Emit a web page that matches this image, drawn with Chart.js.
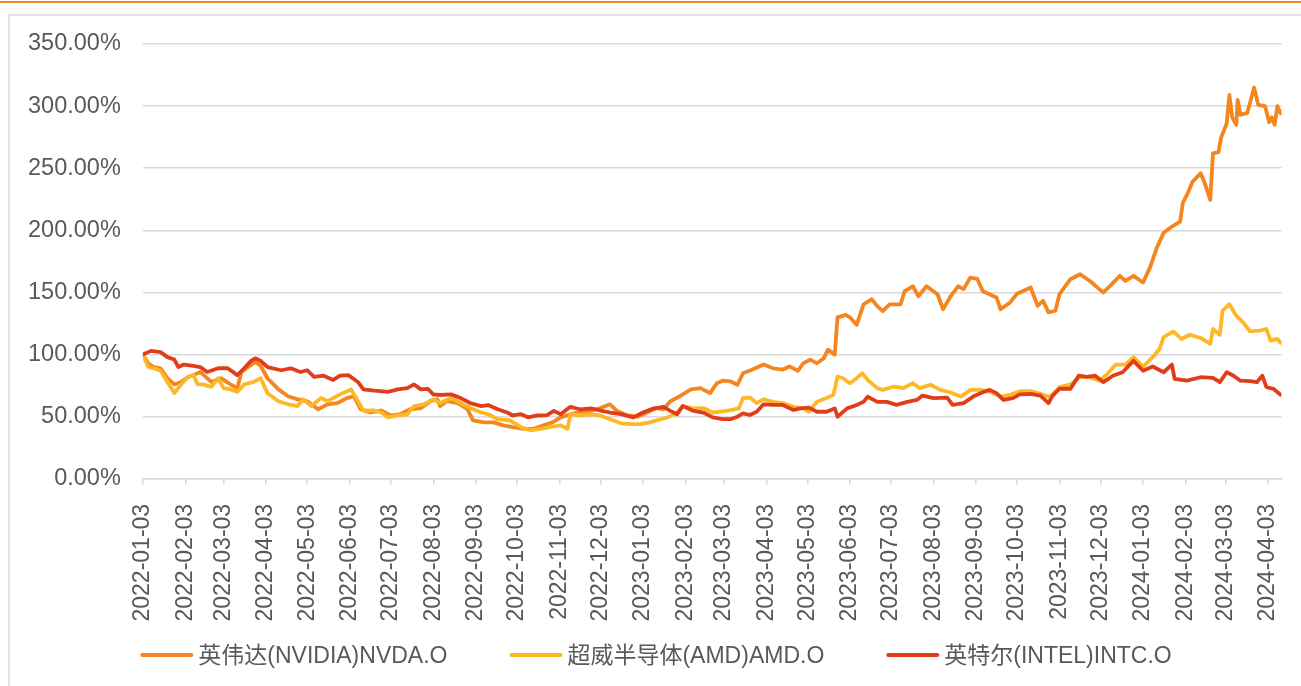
<!DOCTYPE html>
<html>
<head>
<meta charset="utf-8">
<script src="https://cdn.jsdelivr.net/npm/chart.js@4"></script>
<style>
html,body{margin:0;padding:0;background:#fff;overflow:hidden;}
#wrap{position:relative;width:1301px;height:686px;}
</style>
</head>
<body>
<div id="wrap"><canvas id="c"></canvas></div>
<script>
const seriesLabels = ['英伟达(NVIDIA)NVDA.O', '超威半导体(AMD)AMD.O', '英特尔(INTEL)INTC.O'];
const seriesColors = ['#F5861F', '#FDB827', '#E03E1A'];

const tickLabels = ['2022-01-03','2022-02-03','2022-03-03','2022-04-03','2022-05-03','2022-06-03','2022-07-03','2022-08-03','2022-09-03','2022-10-03','2022-11-03','2022-12-03',
'2023-01-03','2023-02-03','2023-03-03','2023-04-03','2023-05-03','2023-06-03','2023-07-03','2023-08-03','2023-09-03','2023-10-03','2023-11-03','2023-12-03',
'2024-01-03','2024-02-03','2024-03-03','2024-04-03'];

const nvdaDates = ['2022-01-03','2022-01-07','2022-01-11','2022-01-16','2022-01-21','2022-01-26','2022-01-31','2022-02-05','2022-02-09','2022-02-14','2022-02-22','2022-03-01','2022-03-08','2022-03-13','2022-03-16','2022-03-21','2022-03-26','2022-03-30','2022-04-04','2022-04-12','2022-04-19','2022-04-26','2022-05-03','2022-05-11','2022-05-18','2022-05-25','2022-06-01','2022-06-06','2022-06-11','2022-06-18','2022-06-26','2022-07-03','2022-07-10','2022-07-17','2022-07-25','2022-08-01','2022-08-06','2022-08-08','2022-08-13','2022-08-21','2022-08-28','2022-09-01','2022-09-09','2022-09-16','2022-09-23','2022-09-30','2022-10-08','2022-10-15','2022-10-22','2022-10-30','2022-11-04','2022-11-11','2022-11-18','2022-11-26','2022-12-03','2022-12-10','2022-12-15','2022-12-23','2022-12-30','2023-01-06','2023-01-13','2023-01-18','2023-01-23','2023-01-30','2023-02-07','2023-02-14','2023-02-21','2023-02-26','2023-03-02','2023-03-08','2023-03-13','2023-03-17','2023-03-24','2023-04-01','2023-04-08','2023-04-15','2023-04-20','2023-04-26','2023-04-30','2023-05-05','2023-05-10','2023-05-15','2023-05-18','2023-05-23','2023-05-25','2023-05-31','2023-06-03','2023-06-08','2023-06-13','2023-06-19','2023-06-23','2023-06-27','2023-07-02','2023-07-10','2023-07-13','2023-07-19','2023-07-23','2023-07-29','2023-08-06','2023-08-10','2023-08-15','2023-08-21','2023-08-25','2023-08-30','2023-09-04','2023-09-08','2023-09-13','2023-09-18','2023-09-21','2023-09-28','2023-10-03','2023-10-13','2023-10-18','2023-10-22','2023-10-26','2023-10-31','2023-11-03','2023-11-11','2023-11-18','2023-11-25','2023-12-02','2023-12-05','2023-12-10','2023-12-17','2023-12-21','2023-12-27','2024-01-03','2024-01-08','2024-01-13','2024-01-18','2024-01-24','2024-01-30','2024-02-01','2024-02-05','2024-02-08','2024-02-14','2024-02-17','2024-02-21','2024-02-23','2024-02-27','2024-02-29','2024-03-04','2024-03-06','2024-03-08','2024-03-11','2024-03-12','2024-03-14','2024-03-19','2024-03-21','2024-03-24','2024-03-27','2024-04-01','2024-04-04','2024-04-06','2024-04-08','2024-04-10','2024-04-13'];
const nvdaValues = [100,93,90,89,81,76,78,82,83.5,86,78,81,76,73,86,90,94,91,81,72,66.5,64,62.5,56,60,61,65,66.5,56,53.4,55,51,52,56,57,62.5,64,58.6,62.5,61,56,47,45.5,45.5,43,41.6,40.3,40.3,43,46,49.5,52,54,54.7,57,60,54.7,51,50,53.4,57,56,62.5,66.5,72,73,69,77,79,78.4,75.7,85,88,92,89,88,90.5,87,93,96,93,97,104,100,130,132,130,124,140.5,144.6,139,135,140.5,140.5,151,155,147,155,148.6,136.5,146,155,152.7,162,161,151,148.6,146,136.5,142,149,154,139.3,143.3,134,135.3,148.7,160.7,164.7,159.4,152.7,150,155.3,163.4,159.4,163.4,158,170,186,198,203,207,222,231,239,246,238,224.5,262,263,275,286,309,291,285,305,293,294.5,302.5,315,301,300,287,291,285,300,293];

const amdDates = ['2022-01-03','2022-01-07','2022-01-11','2022-01-16','2022-01-21','2022-01-26','2022-01-31','2022-02-05','2022-02-09','2022-02-12','2022-02-16','2022-02-22','2022-02-27','2022-03-03','2022-03-08','2022-03-13','2022-03-18','2022-03-25','2022-03-30','2022-04-04','2022-04-12','2022-04-19','2022-04-26','2022-04-30','2022-05-06','2022-05-13','2022-05-18','2022-05-27','2022-06-04','2022-06-09','2022-06-13','2022-06-21','2022-06-26','2022-07-01','2022-07-08','2022-07-15','2022-07-20','2022-07-27','2022-08-03','2022-08-08','2022-08-16','2022-08-23','2022-08-30','2022-09-07','2022-09-12','2022-09-19','2022-09-28','2022-10-06','2022-10-13','2022-10-20','2022-10-27','2022-11-04','2022-11-09','2022-11-11','2022-11-18','2022-11-26','2022-12-03','2022-12-10','2022-12-18','2022-12-25','2023-01-01','2023-01-08','2023-01-16','2023-01-21','2023-01-28','2023-02-01','2023-02-09','2023-02-16','2023-02-23','2023-02-28','2023-03-08','2023-03-14','2023-03-17','2023-03-22','2023-03-27','2023-04-01','2023-04-08','2023-04-15','2023-04-23','2023-04-30','2023-05-04','2023-05-10','2023-05-17','2023-05-22','2023-05-25','2023-05-29','2023-06-03','2023-06-08','2023-06-12','2023-06-16','2023-06-23','2023-06-27','2023-07-05','2023-07-12','2023-07-19','2023-07-24','2023-08-01','2023-08-08','2023-08-15','2023-08-23','2023-08-30','2023-09-06','2023-09-13','2023-09-21','2023-09-28','2023-10-05','2023-10-13','2023-10-20','2023-10-27','2023-11-03','2023-11-11','2023-11-18','2023-11-25','2023-12-02','2023-12-08','2023-12-14','2023-12-21','2023-12-27','2024-01-03','2024-01-10','2024-01-15','2024-01-18','2024-01-25','2024-01-31','2024-02-06','2024-02-14','2024-02-21','2024-02-23','2024-02-28','2024-03-01','2024-03-06','2024-03-11','2024-03-16','2024-03-21','2024-03-28','2024-04-02','2024-04-05','2024-04-10','2024-04-13'];
const amdValues = [100,90,89,87,78,69,76,82,83.5,76,76,74,81,73,72,70,76,78,81,69,62.5,60,58.6,64,58.6,65,62.5,68,72,62.5,55,55,53.4,49.5,51,52,58.6,60,64,61,65,61,57,53.4,52,48,47,41.6,39,40.3,41.6,43,40.3,52,51,52,51,48,44.7,44,44,45.5,48,49.5,53.4,58.6,56.8,57,53.4,54,55.4,56.7,65,65.4,61,64,62,61,58,56.7,54,62,65,67.6,82.4,81,77,81,85,79.7,73,71.6,74.3,73,77,73,75.7,71.6,69.7,66.2,71.6,71.6,70.3,66.2,67.6,70.5,70.6,68.4,65.8,73.8,76,81.8,81.8,79,84.5,92,92,97.9,90.4,97.9,104.5,114,118.7,112.6,116,113.4,108.6,120.6,116,135.3,140.6,131.3,126,118.7,119.3,120.6,111.2,112.6,108.6];

const intcDates = ['2022-01-03','2022-01-09','2022-01-16','2022-01-21','2022-01-26','2022-01-29','2022-02-02','2022-02-09','2022-02-14','2022-02-19','2022-02-27','2022-03-06','2022-03-13','2022-03-18','2022-03-23','2022-03-26','2022-03-30','2022-04-04','2022-04-14','2022-04-21','2022-04-28','2022-05-03','2022-05-08','2022-05-15','2022-05-22','2022-05-27','2022-06-02','2022-06-09','2022-06-13','2022-06-21','2022-07-01','2022-07-08','2022-07-15','2022-07-20','2022-07-25','2022-07-30','2022-08-03','2022-08-08','2022-08-16','2022-08-23','2022-08-30','2022-09-07','2022-09-12','2022-09-19','2022-09-26','2022-09-30','2022-10-06','2022-10-11','2022-10-18','2022-10-25','2022-10-30','2022-11-04','2022-11-11','2022-11-18','2022-11-26','2022-12-03','2022-12-10','2022-12-18','2022-12-27','2023-01-03','2023-01-11','2023-01-18','2023-01-23','2023-01-28','2023-02-01','2023-02-09','2023-02-16','2023-02-23','2023-03-02','2023-03-08','2023-03-13','2023-03-17','2023-03-22','2023-03-27','2023-04-01','2023-04-08','2023-04-15','2023-04-23','2023-04-28','2023-05-04','2023-05-10','2023-05-17','2023-05-23','2023-05-25','2023-06-01','2023-06-08','2023-06-13','2023-06-16','2023-06-23','2023-06-30','2023-07-07','2023-07-15','2023-07-22','2023-07-26','2023-08-03','2023-08-13','2023-08-17','2023-08-25','2023-09-01','2023-09-08','2023-09-13','2023-09-18','2023-09-23','2023-09-30','2023-10-05','2023-10-13','2023-10-20','2023-10-26','2023-10-29','2023-11-03','2023-11-11','2023-11-17','2023-11-23','2023-11-29','2023-12-05','2023-12-12','2023-12-19','2023-12-27','2024-01-03','2024-01-10','2024-01-18','2024-01-24','2024-01-26','2024-02-04','2024-02-14','2024-02-23','2024-02-28','2024-03-04','2024-03-09','2024-03-14','2024-03-21','2024-03-26','2024-03-30','2024-04-02','2024-04-07','2024-04-13'];
const intcValues = [100,103,102,98,96,90,92,91,90,86,89,89,83.5,89,95,97,95,90,87.4,89,86,87.4,82,83,79.6,83,83.5,78,72,71,70,72,73,76,72,72.5,68,67.5,68,65,61,58.6,59.4,56,53.4,51,52,49.5,51,51.3,54.7,52,58,56,56.8,55,53.4,52,49.5,53.4,56.8,58,54.7,52,58.6,54.7,53.4,49.5,48,48,50,52.7,51.4,54,60,59.5,59.5,55.4,56.7,57.3,54,54,56.7,50,56.7,59.5,62,66.2,62,62,59.5,62,63.5,67,65,65.4,59.5,61,66.2,69.7,71.6,69,63.5,65,68,68.4,67,61,67,72.5,72.5,83,82,83,77.8,83,85.8,95,87,90.4,85.8,92,80.5,79,81.8,81.3,77.8,85.8,83,79,78.6,77.8,83,73.8,72.5,67];

function dayOf(s){const p=s.split('-').map(Number);return (Date.UTC(p[0],p[1]-1,p[2])-Date.UTC(2022,0,3))/864e5;}
function pts(d,v){return d.map((s,i)=>({x:dayOf(s),y:v[i]}));}

const FONT = '"Liberation Sans", Arial, "Noto Sans CJK SC", sans-serif';
Chart.defaults.font.family = FONT;
Chart.defaults.color = '#595959';

const framePlugin = {
  id:'frame',
  beforeDraw(chart){
    const ctx=chart.ctx, W=chart.width, H=chart.height;
    ctx.save();
    ctx.fillStyle='#fff';ctx.fillRect(0,0,W,H);
    ctx.fillStyle='#F08A24';ctx.fillRect(0,1,W,2);
    ctx.fillStyle='#e3e3e3';
    ctx.fillRect(8,14,W-8,2);
    ctx.fillRect(8,14,2,H-14);
    ctx.restore();
  }
};
const legendPlugin = {
  id:'customLegend',
  afterDraw(chart){
    const ctx=chart.ctx;
    ctx.save();
    ctx.font='23px '+FONT;
    const lineW=53, gap=5, spacing=62;
    const items=chart.data.datasets.map(ds=>({t:ds.label,c:ds.borderColor,w:ctx.measureText(ds.label).width}));
    let total=items.reduce((a,it)=>a+lineW+gap+it.w,0)+spacing*(items.length-1);
    let x=656-total/2; const y=655;
    ctx.textBaseline='middle';ctx.textAlign='left';
    items.forEach(it=>{
      ctx.strokeStyle=it.c;ctx.lineWidth=4;ctx.lineCap='round';
      ctx.beginPath();ctx.moveTo(x+2,y);ctx.lineTo(x+lineW-2,y);ctx.stroke();
      ctx.fillStyle='#595959';
      ctx.fillText(it.t,x+lineW+gap,y+2);
      x+=lineW+gap+it.w+spacing;
    });
    ctx.restore();
  }
};

new Chart(document.getElementById('c'),{
  type:'line',
  data:{datasets:[
    {label:seriesLabels[0],data:pts(nvdaDates,nvdaValues),borderColor:seriesColors[0],backgroundColor:seriesColors[0],order:2},
    {label:seriesLabels[1],data:pts(amdDates,amdValues),borderColor:seriesColors[1],backgroundColor:seriesColors[1],order:1},
    {label:seriesLabels[2],data:pts(intcDates,intcValues),borderColor:seriesColors[2],backgroundColor:seriesColors[2],order:0}
  ]},
  options:{
    responsive:true,maintainAspectRatio:false,animation:false,
    elements:{line:{borderWidth:3.8,tension:0,borderJoinStyle:'round'},point:{radius:0,hoverRadius:0}},
    layout:{padding:{left:6,right:19.5,top:44,bottom:45.5}},
    plugins:{legend:{display:false},tooltip:{enabled:false}},
    scales:{
      x:{type:'linear',min:0,max:dayOf('2024-04-13'),
        afterBuildTicks(scale){scale.ticks=tickLabels.map(s=>({value:dayOf(s)}));},
        afterFit(scale){scale.paddingLeft=0;scale.paddingRight=0;},
        ticks:{autoSkip:false,minRotation:90,maxRotation:90,padding:19,font:{size:23},
          callback(v){const i=tickLabels.findIndex(s=>dayOf(s)===v);return i>=0?tickLabels[i]:'';}},
        grid:{drawOnChartArea:false,drawTicks:true,tickLength:6,color:'#d9d9d9',lineWidth:1.5},
        border:{display:true,color:'#d9d9d9',width:1.5}
      },
      y:{min:0,max:350,
        ticks:{stepSize:50,padding:22,font:{size:23.5},callback(v){return v.toFixed(2)+'%';}},
        grid:{drawTicks:false,color:'#d9d9d9',lineWidth:1.5},
        border:{display:false}
      }
    }
  },
  plugins:[framePlugin,legendPlugin]
});
</script>
</body>
</html>
